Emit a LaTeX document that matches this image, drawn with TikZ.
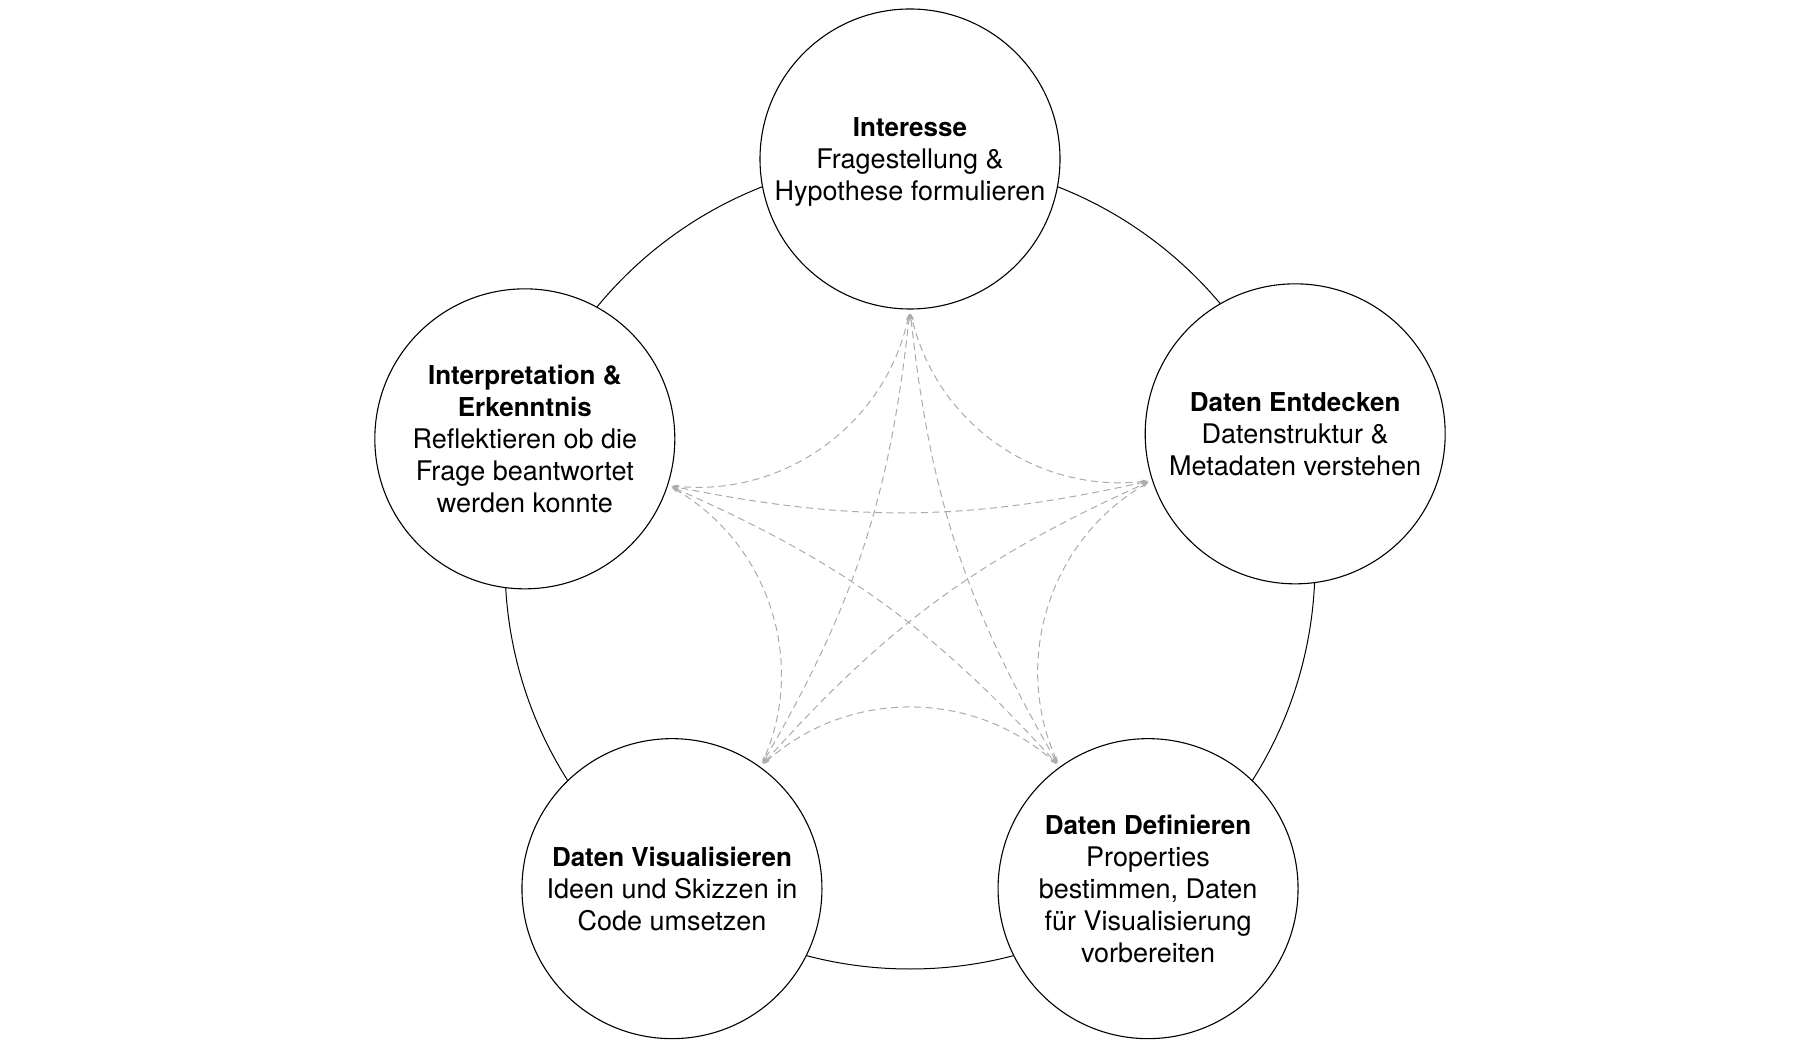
\documentclass[tikz,border=0pt]{standalone}
\usepackage{fontspec}
\setmainfont{TeX Gyre Heros}
\usetikzlibrary{arrows.meta,calc}
\newcommand{\ttl}[1]{{\fontsize{26}{32}\selectfont\bfseries\rule{0pt}{26pt}#1}}
\newcommand{\lastln}[1]{#1\rule[-7.2pt]{0pt}{0pt}}
\begin{document}
\begin{tikzpicture}[x=1pt,y=1pt,
  stage/.style={circle,draw=black,line width=1.1pt,fill=white,minimum size=300pt,inner sep=0pt,align=center,font=\fontsize{27}{32}\selectfont},
  ring/.style={draw=black,line width=1pt},
  link/.style={draw=black!33,line width=1pt,dash pattern=on 7pt off 4.5pt,shorten <=4pt,shorten >=4pt,
    {Stealth[length=7pt,width=4pt]}-{Stealth[length=7pt,width=4pt]}}]
\useasboundingbox (0,0) rectangle (1820,1050);
\coordinate (O) at (910,486);
\draw[ring] (O) circle[radius=405pt];
\node[stage] (I) at ($(O)+(90:405)$) {\ttl{Interesse}\\Fragestellung \&\\\lastln{Hypothese formulieren}};
\node[stage] (E) at ($(O)+(18:405)+(0,5)$) {\ttl{Daten Entdecken}\\Datenstruktur \&\\\lastln{Metadaten verstehen}};
\node[stage] (D) at ($(O)+(-54:405)+(0,3)$) {\ttl{Daten Definieren}\\Properties\\bestimmen, Daten\\für Visualisierung\\\lastln{vorbereiten}};
\node[stage] (V) at ($(O)+(-126:405)+(0,3)$) {\ttl{Daten Visualisieren}\\Ideen und Skizzen in\\\lastln{Code umsetzen}};
\node[stage] (K) at ($(O)+(162:405)$) {\ttl{Interpretation \&}\\\ttl{Erkenntnis}\\Reflektieren ob die\\Frage beantwortet\\\lastln{werden konnte}};
% adjacent links
\draw[link] (I.270) to[bend left=42] (K.-18);
\draw[link] (K.-18) to[bend left=42] (V.54);
\draw[link] (V.54) to[bend left=42] (D.126);
\draw[link] (D.126) to[bend left=42] (E.198);
\draw[link] (E.198) to[bend left=42] (I.270);
% non-adjacent links
\draw[link] (I.270) to[bend left=12] (V.54);
\draw[link] (K.-18) to[bend left=12] (D.126);
\draw[link] (V.54) to[bend left=12] (E.198);
\draw[link] (D.126) to[bend left=12] (I.270);
\draw[link] (E.198) to[bend left=12] (K.-18);
\end{tikzpicture}
\end{document}
